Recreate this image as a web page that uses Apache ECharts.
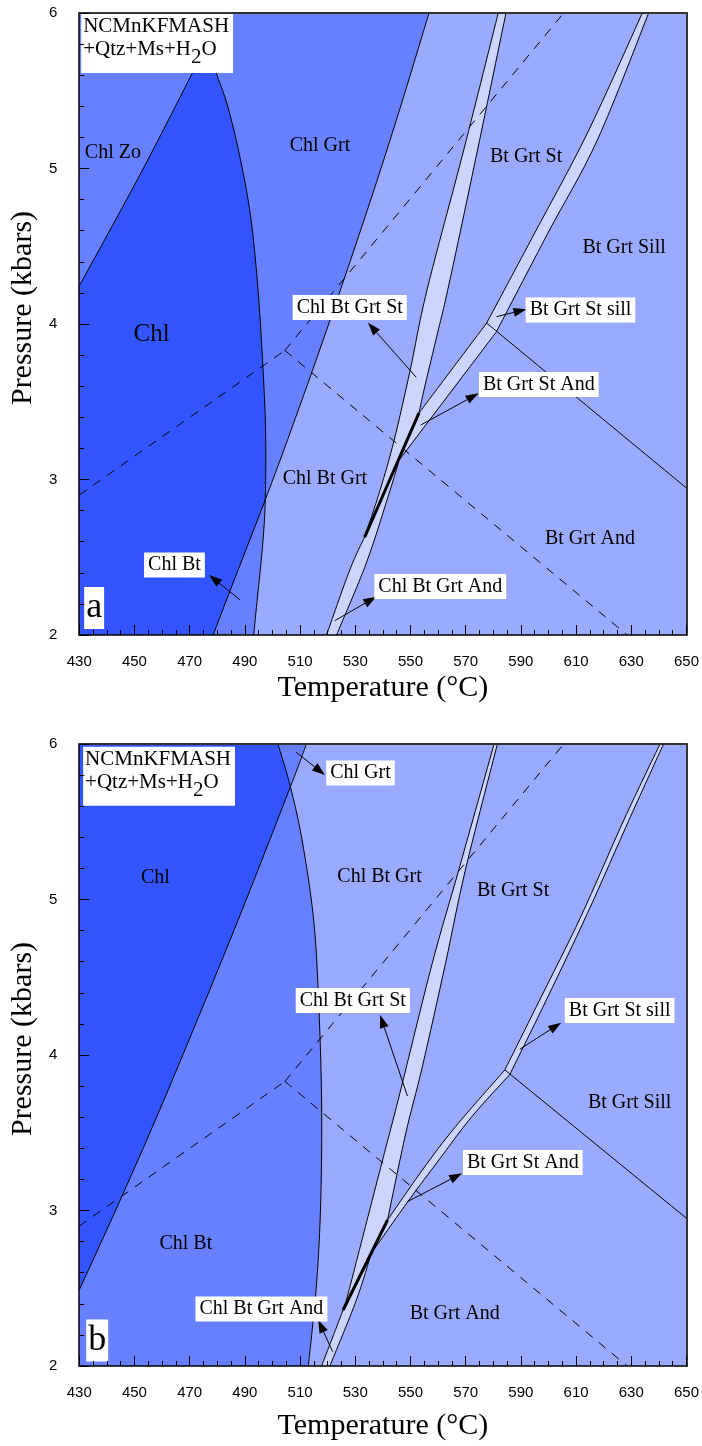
<!DOCTYPE html>
<html>
<head>
<meta charset="utf-8">
<script src="https://cdn.jsdelivr.net/npm/echarts@6.0.0/dist/echarts.min.js"></script>
<style>
html,body{margin:0;padding:0;background:#ffffff;}
#chart{width:702px;height:1446px;}
</style>
</head>
<body>
<div id="chart"></div>
<script>
// ===== Axis ticks =====
const tempTicks = [430, 450, 470, 490, 510, 530, 550, 570, 590, 610, 630, 650];
const pressureTicks = [2, 3, 4, 5, 6];

// ===== Al2SiO5 reactions (dashed), same in both panels [T, P] =====
const kyAnd = [[430, 2.90], [504.5, 3.83]];
const kySill = [[504.5, 3.83], [605.5, 6.0]];
const andSill = [[504.5, 3.83], [628.5, 2.0]];

// ===== Panel a boundaries [T (°C), P (kbar)] =====
const aZoOut = [[430, 4.244], [453.5, 5.01], [476.3, 5.80]];
const aChlEdge = [[493.2, 2.0], [494.6, 2.25], [496.4, 2.57], [497.4, 2.87], [497.5, 3.32], [496.4, 3.77], [494.6, 4.26], [492.1, 4.69], [488.5, 5.05], [483.8, 5.40], [479.5, 5.62], [476.3, 5.80]];
const aBtGrtIn = [[478.5, 2.0], [486.5, 2.37], [497.4, 2.87], [506.8, 3.32], [519.6, 3.96], [534.7, 4.75], [546.1, 5.38], [556.7, 6.0]];
const aStIn = [[581.8, 6.0], [569.3, 5.119], [556.0, 4.219], [549.9, 3.704], [544.1, 3.254], [539.0, 2.932], [533.4, 2.630]];
const aChlOutSt = [[584.6, 6.0], [574.3, 5.119], [563.9, 4.251], [559.2, 3.897], [554.9, 3.576], [553.1, 3.428]];
const aDegenerate = [[553.1, 3.428], [533.4, 2.630]];
const aAndIn = [[533.4, 2.630], [528.0, 2.418], [519.6, 2.0]];
const aChlOutAnd = [[523.2, 2.0], [534.0, 2.463], [542.3, 2.913], [545.9, 3.125]];
const aStOutAnd = [[545.9, 3.125], [581.1, 3.949]];
const aStOutSill = [[581.1, 3.949], [599.8, 4.585], [617.7, 5.183], [636.3, 6.0]];
const aAlsAnd = [[553.1, 3.428], [577.6, 4.006]];
const aAlsSill = [[577.6, 4.006], [595.0, 4.585], [614.1, 5.228], [634.0, 6.0]];
const aAndSill = [[577.6, 4.006], [650, 2.945]];

// ===== Panel b boundaries =====
const bChlOut = [[430, 2.489], [445.4, 3.089], [462.2, 3.775], [486.1, 4.804], [506.5, 5.725], [512.3, 6.0]];
const bGrtIn = [[513.0, 2.0], [516.0, 2.534], [517.5, 3.068], [517.8, 3.711], [516.6, 4.399], [514.8, 4.891], [510.7, 5.385], [506.5, 5.725], [502.0, 6.0]];
const bStIn = [[580.3, 6.0], [567.5, 5.190], [557.9, 4.590], [546.0, 3.743], [539.9, 3.325], [534.6, 2.960], [526.8, 2.424], [525.6, 2.360]];
const bChlOutSt = [[581.5, 6.0], [569.9, 5.190], [562.7, 4.590], [554.3, 3.925], [548.3, 3.497], [541.7, 2.939]];
const bDegenerate = [[541.7, 2.939], [525.6, 2.360]];
const bAndIn = [[525.6, 2.360], [517.8, 2.0]];
const bChlOutAnd = [[520.8, 2.0], [530.4, 2.424], [535.8, 2.725]];
const bStOutAnd = [[535.8, 2.725], [549.5, 3.068], [560.3, 3.325], [572.2, 3.603], [586.0, 3.875]];
const bStOutSill = [[586.0, 3.875], [599.8, 4.375], [614.1, 4.911], [629.7, 5.532], [641.7, 6.0]];
const bAlsAnd = [[541.7, 2.939], [554.3, 3.260], [566.3, 3.539], [584.2, 3.904]];
const bAlsSill = [[584.2, 3.904], [597.4, 4.375], [611.7, 4.889], [627.3, 5.511], [640.4, 6.0]];
const bAndSill = [[584.2, 3.904], [650, 2.95]];

// ===== Field names (plain) [text, T, P] =====
const aFields = [['Chl Zo', 442.2, 5.10], ['Chl Grt', 517.2, 5.145], ['Bt Grt St', 591.9, 5.074], ['Bt Grt Sill', 627.4, 4.489], ['Chl Bt Grt', 519.0, 3.003], ['Bt Grt And', 615.0, 2.617]];
const aBigFields = [['Chl', 456.2, 3.93]];
const bFields = [['Chl', 457.6, 5.141], ['Chl Bt Grt', 538.8, 5.145], ['Bt Grt St', 587.2, 5.055], ['Bt Grt Sill', 629.4, 3.695], ['Chl Bt', 468.6, 2.788], ['Bt Grt And', 566.0, 2.334]];
// ===== Boxed names [text, T, P] =====
const aBoxed = [['Chl Bt Grt St', 528.0, 4.106], ['Bt Grt St sill', 611.6, 4.09], ['Bt Grt St And', 596.5, 3.611], ['Chl Bt Grt And', 560.8, 2.312], ['Chl Bt', 464.5, 2.450]];
const bBoxed = [['Chl Grt', 531.9, 5.814], ['Chl Bt Grt St', 529.1, 4.350], ['Bt Grt St sill', 625.8, 4.286], ['Bt Grt St And', 590.7, 3.309], ['Chl Bt Grt And', 496.0, 2.367]];
// ===== Arrows [T1, P1, T2(head), P2(head)] =====
const aArrows = [[552.1, 3.657, 534.6, 4.008], [581.2, 4.047, 592.0, 4.095], [553.7, 3.350, 574.7, 3.554], [522.6, 2.092, 537.6, 2.246], [488.3, 2.225, 477.1, 2.386]];
const bArrows = [[508.6, 5.947, 519.0, 5.801], [548.9, 3.736, 539.0, 4.257], [589.6, 4.037, 604.6, 4.208], [548.9, 3.057, 568.7, 3.239], [521.8, 2.092, 516.6, 2.296]];
// ===== Panel letters & system notes [T, P] =====
const panelLetters = [['a', 435.4, 2.174], ['b', 436.5, 2.164]];
const systemAnchors = [[430.7, 5.994], [431.4, 5.983]];

// ===== Colours / fonts =====
const C_DARK = '#3355FF', C_MED = '#6680FF', C_LIGHT = '#99AAFF', C_PALE = '#CCD5FF';
const SERIF = '"Liberation Serif","Times New Roman",serif';
const SANS = '"Liberation Sans",Arial,sans-serif';

const tMin = tempTicks[0], tMax = tempTicks[tempTicks.length - 1];
const pMin = pressureTicks[0], pMax = pressureTicks[pressureTicks.length - 1];

// piece of a boundary curve, walked from index i0 to i1
function seg(arr, i0, i1) { return { arr: arr, i0: i0, i1: i1 }; }
function whole(arr) { return seg(arr, 0, arr.length - 1); }
function back(arr) { return seg(arr, arr.length - 1, 0); }
function corner(T, P) { return { arr: [[T, P]], i0: 0, i1: 0 }; }

// smooth (Catmull-Rom) path through api.coord() pixels
function buildPath(api, pieces, close) {
  let d = '';
  pieces.forEach(function (pc, n) {
    const px = pc.arr.map(function (p) { return api.coord(p); });
    const dir = pc.i1 >= pc.i0 ? 1 : -1;
    const at = function (k) { return px[Math.max(0, Math.min(px.length - 1, k))]; };
    const s = px[pc.i0];
    d += (n === 0 ? 'M' : 'L') + s[0].toFixed(2) + ' ' + s[1].toFixed(2);
    for (let k = pc.i0; k !== pc.i1; k += dir) {
      const p0 = at(k - dir), p1 = px[k], p2 = px[k + dir], p3 = at(k + 2 * dir);
      const c1x = p1[0] + (p2[0] - p0[0]) / 6, c1y = p1[1] + (p2[1] - p0[1]) / 6;
      const c2x = p2[0] - (p3[0] - p1[0]) / 6, c2y = p2[1] - (p3[1] - p1[1]) / 6;
      d += 'C' + c1x.toFixed(2) + ' ' + c1y.toFixed(2) + ' ' + c2x.toFixed(2) + ' ' + c2y.toFixed(2) + ' ' + p2[0].toFixed(2) + ' ' + p2[1].toFixed(2);
    }
  });
  if (close) d += 'Z';
  return d;
}

function fillSeries(g, pieces, color) {
  const first = pieces[0].arr[pieces[0].i0];
  return {
    type: 'custom', coordinateSystem: 'cartesian2d', xAxisIndex: g, yAxisIndex: g,
    data: [first], z: 1, silent: true, animation: false,
    renderItem: function (params, api) {
      return { type: 'path', shape: { pathData: buildPath(api, pieces, true) }, style: { fill: color, stroke: null } };
    }
  };
}
function curveSeries(g, arr, width, dashed) {
  return {
    type: 'custom', coordinateSystem: 'cartesian2d', xAxisIndex: g, yAxisIndex: g,
    data: arr, z: 3, silent: true, animation: false,
    renderItem: function (params, api) {
      if (params.dataIndex !== 0) return null;
      return {
        type: 'path', shape: { pathData: buildPath(api, [whole(arr)], false) },
        style: { fill: null, stroke: '#000', lineWidth: width, lineDash: dashed ? [9, 8] : null, lineCap: 'butt', lineJoin: 'round' }
      };
    }
  };
}
function textSeries(g, items, fontSize, boxed) {
  return {
    type: 'custom', coordinateSystem: 'cartesian2d', xAxisIndex: g, yAxisIndex: g,
    data: items.map(function (it) { return [it[1], it[2]]; }), z: 6, silent: true, animation: false,
    renderItem: function (params, api) {
      const it = items[params.dataIndex];
      const c = api.coord([it[1], it[2]]);
      return {
        type: 'text', x: c[0], y: c[1], z2: 10,
        style: {
          text: it[0], fontFamily: SERIF, fontSize: fontSize, fill: '#000',
          align: 'center', verticalAlign: 'middle',
          backgroundColor: boxed ? '#ffffff' : null, padding: boxed ? [3, 4, 2, 4] : 0
        }
      };
    }
  };
}
function arrowSeries(g, arrows) {
  return {
    type: 'custom', coordinateSystem: 'cartesian2d', xAxisIndex: g, yAxisIndex: g,
    data: arrows, z: 5, silent: true, animation: false,
    renderItem: function (params, api) {
      const a = arrows[params.dataIndex];
      const p1 = api.coord([a[0], a[1]]), p2 = api.coord([a[2], a[3]]);
      const dx = p2[0] - p1[0], dy = p2[1] - p1[1];
      const L = Math.sqrt(dx * dx + dy * dy), ux = dx / L, uy = dy / L;
      const hl = 13, hw = 4.5;
      const bx = p2[0] - ux * hl, by = p2[1] - uy * hl;
      return {
        type: 'group', children: [
          { type: 'line', shape: { x1: p1[0], y1: p1[1], x2: bx, y2: by }, style: { stroke: '#000', lineWidth: 1 } },
          { type: 'polygon', shape: { points: [[p2[0], p2[1]], [bx - uy * hw, by + ux * hw], [bx + uy * hw, by - ux * hw]] }, style: { fill: '#000' } }
        ]
      };
    }
  };
}
function systemSeries(g) {
  return {
    type: 'custom', coordinateSystem: 'cartesian2d', xAxisIndex: g, yAxisIndex: g,
    data: [systemAnchors[g]], z: 6, silent: true, animation: false,
    renderItem: function (params, api) {
      const c = api.coord(systemAnchors[g]);
      return {
        type: 'text', x: c[0], y: c[1], z2: 10,
        style: {
          text: '{a|NCMnKFMASH}\n{a|+Qtz+Ms+H}{s|2}{a|O}',
          align: 'left', verticalAlign: 'top', backgroundColor: '#ffffff', padding: [1, 4, 12, 2],
          rich: {
            a: { fontFamily: SERIF, fontSize: 21, lineHeight: 23, fill: '#000' },
            s: { fontFamily: SERIF, fontSize: 21, lineHeight: 7, padding: [16, 0, 0, 0], fill: '#000' }
          }
        }
      };
    }
  };
}
function letterSeries(g) {
  const it = panelLetters[g];
  return {
    type: 'custom', coordinateSystem: 'cartesian2d', xAxisIndex: g, yAxisIndex: g,
    data: [[it[1], it[2]]], z: 6, silent: true, animation: false,
    renderItem: function (params, api) {
      const c = api.coord([it[1], it[2]]);
      return { type: 'text', x: c[0], y: c[1], style: { text: it[0], fontFamily: SERIF, fontSize: 36, fill: '#000', align: 'center', verticalAlign: 'middle', backgroundColor: '#fff', padding: [2, 2, 4, 2] } };
    }
  };
}

function xAxisMain(g) {
  return {
    type: 'value', gridIndex: g, min: tMin, max: tMax, interval: tempTicks[1] - tempTicks[0],
    name: 'Temperature (°C)', nameLocation: 'middle', nameGap: g === 0 ? 38 : 45,
    nameTextStyle: { fontFamily: SERIF, fontSize: 30, color: '#000' },
    axisLine: { show: true, onZero: false, lineStyle: { color: '#000', width: 1.5 } },
    axisTick: { show: true, inside: true, length: 10, lineStyle: { color: '#000', width: 1 } },
    minorTick: { show: true, splitNumber: 4, length: 5, lineStyle: { color: '#000', width: 1 } },
    axisLabel: { fontFamily: SANS, fontSize: 15, color: '#000', margin: 19 },
    splitLine: { show: false }, z: 10
  };
}
function yAxisMain(g) {
  return {
    type: 'value', gridIndex: g, min: pMin, max: pMax, interval: pressureTicks[1] - pressureTicks[0],
    name: 'Pressure (kbars)', nameLocation: 'middle', nameGap: 37, nameRotate: 90,
    nameTextStyle: { fontFamily: SERIF, fontSize: 30, color: '#000', padding: [0, 0, 0, 32] },
    axisLine: { show: true, onZero: false, lineStyle: { color: '#000', width: 1.5 } },
    axisTick: { show: true, inside: true, length: 10, lineStyle: { color: '#000', width: 1 } },
    minorTick: { show: true, splitNumber: 5, length: 5, lineStyle: { color: '#000', width: 1 } },
    axisLabel: { fontFamily: SANS, fontSize: 15, color: '#000', margin: 22 },
    splitLine: { show: false }, z: 10
  };
}
function frameAxis(g, pos, isX) {
  return {
    type: 'value', gridIndex: g, position: pos, min: isX ? tMin : pMin, max: isX ? tMax : pMax,
    axisLine: { show: true, onZero: false, lineStyle: { color: '#333', width: 2 } },
    axisTick: { show: false }, axisLabel: { show: false }, splitLine: { show: false }, z: 10
  };
}

// ===== Field fills =====
const series = [
  // panel a
  fillSeries(0, [corner(430, 2), seg(aChlEdge, 0, 3), seg(aBtGrtIn, 2, aBtGrtIn.length - 1), corner(430, 6)], C_MED),
  fillSeries(0, [corner(430, 2), seg(aBtGrtIn, 0, 2), seg(aChlEdge, 3, aChlEdge.length - 1), back(aZoOut)], C_DARK),
  fillSeries(0, [whole(aStIn), whole(aAndIn), whole(aChlOutAnd), whole(aStOutAnd), whole(aStOutSill),
                 back(aAlsSill), back(aAlsAnd), back(aChlOutSt)], C_PALE),
  // panel b
  fillSeries(1, [corner(430, 2), seg(bGrtIn, 0, 7), seg(bChlOut, 4, bChlOut.length - 1), corner(430, 6)], C_MED),
  fillSeries(1, [seg(bChlOut, 0, 4), seg(bGrtIn, 7, bGrtIn.length - 1), corner(430, 6)], C_DARK),
  fillSeries(1, [whole(bStIn), whole(bAndIn), whole(bChlOutAnd), whole(bStOutAnd), whole(bStOutSill),
                 back(bAlsSill), back(bAlsAnd), back(bChlOutSt)], C_PALE)
];
// ===== Boundaries =====
[aZoOut, aChlEdge, aBtGrtIn, aStIn, aChlOutSt, aAndIn, aChlOutAnd, aStOutAnd, aStOutSill, aAlsAnd, aAlsSill, aAndSill].forEach(function (l) { series.push(curveSeries(0, l, 1, false)); });
series.push(curveSeries(0, aDegenerate, 3, false));
[bChlOut, bGrtIn, bStIn, bChlOutSt, bAndIn, bChlOutAnd, bStOutAnd, bStOutSill, bAlsAnd, bAlsSill, bAndSill].forEach(function (l) { series.push(curveSeries(1, l, 1, false)); });
series.push(curveSeries(1, bDegenerate, 3, false));
[0, 1].forEach(function (g) {
  [kyAnd, kySill, andSill].forEach(function (l) { series.push(curveSeries(g, l, 1, true)); });
});
// ===== Annotations =====
series.push(arrowSeries(0, aArrows), arrowSeries(1, bArrows));
series.push(textSeries(0, aFields, 20, false), textSeries(0, aBigFields, 25, false), textSeries(0, aBoxed, 20, true));
series.push(textSeries(1, bFields, 20, false), textSeries(1, bBoxed, 20, true));
series.push(systemSeries(0), systemSeries(1), letterSeries(0), letterSeries(1));

const chart = echarts.init(document.getElementById('chart'), null, { renderer: 'canvas' });
chart.setOption({
  animation: false,
  backgroundColor: '#ffffff',
  grid: [
    { left: 77, top: 13, width: 613, height: 622, show: true, backgroundColor: C_LIGHT, borderWidth: 0 },
    { left: 77, top: 744, width: 613, height: 622, show: true, backgroundColor: C_LIGHT, borderWidth: 0 }
  ],
  xAxis: [xAxisMain(0), xAxisMain(1), frameAxis(0, 'top', true), frameAxis(1, 'top', true)],
  yAxis: [yAxisMain(0), yAxisMain(1), frameAxis(0, 'right', false), frameAxis(1, 'right', false)],
  series: series
});
</script>
</body>
</html>
